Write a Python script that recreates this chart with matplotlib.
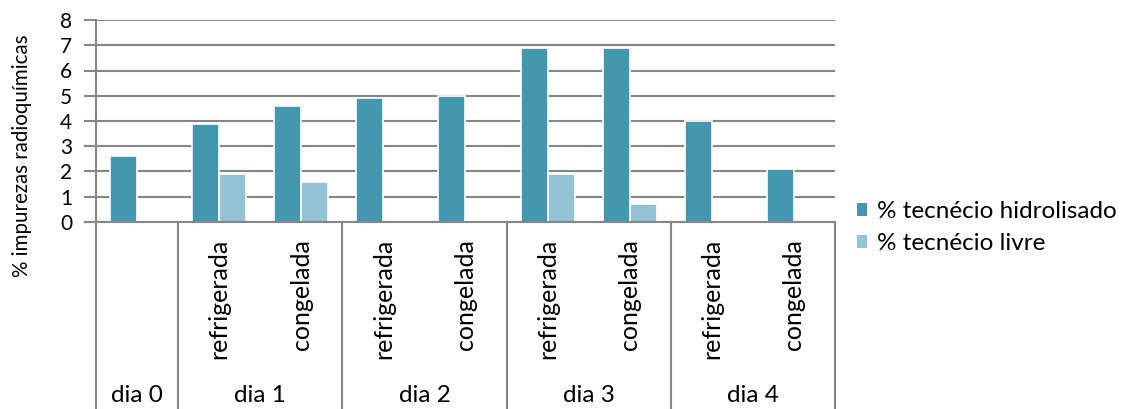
import matplotlib
matplotlib.use("Agg")
import matplotlib.pyplot as plt
import matplotlib.transforms as mtransforms
from matplotlib.patches import Patch
import numpy as np

plt.rcParams['font.family'] = ['Lato', 'DejaVu Sans']

# Data
groups = ["dia 0", "dia 1", "dia 2", "dia 3", "dia 4"]
group_sizes = [1, 2, 2, 2, 2]
subcats = ["", "refrigerada", "congelada", "refrigerada", "congelada",
           "refrigerada", "congelada", "refrigerada", "congelada"]
hidrolisado = [2.6, 3.9, 4.6, 4.9, 5.0, 6.9, 6.9, 4.0, 2.1]
livre = [0, 1.9, 1.6, 0, 0, 1.9, 0.7, 0, 0]
series_labels = ["% tecnécio hidrolisado", "% tecnécio livre"]
y_ticks = [0, 1, 2, 3, 4, 5, 6, 7, 8]

col_h = "#4398AF"
col_l = "#93C3D5"
grid_col = "#868686"

W, H = 1130, 409
fig = plt.figure(figsize=(W / 100, H / 100), dpi=100)
ax = fig.add_axes([96 / W, 1 - 222 / H, (835 - 96) / W, (222 - 20) / H])

x = np.arange(len(subcats))
bw = 0.33
for xi, v in zip(x, hidrolisado):
    if v > 0:
        ax.bar(xi - bw / 2, v, bw, color=col_h, edgecolor="white", linewidth=1.2, zorder=3)
for xi, v in zip(x, livre):
    if v > 0:
        ax.bar(xi + bw / 2, v, bw, color=col_l, edgecolor="white", linewidth=1.2, zorder=3)

ax.set_xlim(-0.5, len(subcats) - 0.5)
ax.set_ylim(0, 8)
ax.set_yticks(y_ticks)
ax.set_yticklabels([str(t) for t in y_ticks], fontsize=15)
ax.tick_params(axis="y", length=9, width=1.5, color=grid_col, pad=8)
ax.set_xticks([])
ax.yaxis.grid(True, color=grid_col, linewidth=1.5, zorder=0)
for s in ["top", "right", "bottom"]:
    ax.spines[s].set_visible(False)
ax.spines["left"].set_color(grid_col)
ax.spines["left"].set_linewidth(1.5)
ax.spines["left"].set_bounds(0, 8)

# Multi-level category axis below the plot
trans = mtransforms.blended_transform_factory(ax.transData, fig.transFigure)
zero_fig = 1 - 222 / H
bounds = [-0.5]
for n in group_sizes:
    bounds.append(bounds[-1] + n)
for b in bounds:
    ax.plot([b, b], [zero_fig, 0.0], transform=trans, color=grid_col,
            linewidth=1.5, clip_on=False, zorder=1)
ax.plot([-0.5, bounds[-1]], [zero_fig, zero_fig], transform=trans, color=grid_col,
        linewidth=1.5, clip_on=False, zorder=4)

for xi, lab in zip(x, subcats):
    if lab:
        fig.text(xi, 1 - 239 / H, lab, transform=trans, rotation=90,
                 ha="center", va="top", fontsize=18)

start = -0.5
for g, n in zip(groups, group_sizes):
    fig.text(start + n / 2, 1 - 396 / H, g, transform=trans,
             ha="center", va="center", fontsize=17.5)
    start += n

fig.text(22 / W, 1 - 156 / H, "% impurezas radioquímicas", rotation=90,
         ha="center", va="center", fontsize=14.8)

handles = [Patch(facecolor=col_h, edgecolor="none"), Patch(facecolor=col_l, edgecolor="none")]
fig.legend(handles, series_labels, loc="center left", bbox_to_anchor=(857 / W, 1 - 227.5 / H),
           frameon=False, fontsize=17.5, handlelength=0.42, handleheight=0.42,
           handletextpad=0.42, labelspacing=0.45, borderpad=0, borderaxespad=0)

fig.savefig("out.png", dpi=100)
